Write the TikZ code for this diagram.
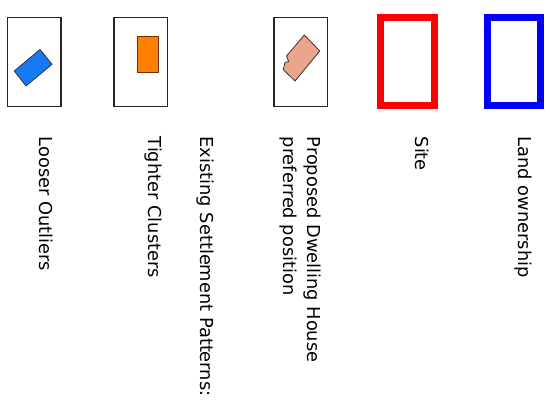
\documentclass[tikz,border=0pt]{standalone}
\usepackage{fontspec}
\setmainfont{DejaVu Sans}
\definecolor{outlierblue}{RGB}{22,122,245}
\definecolor{clusterorange}{RGB}{255,127,0}
\definecolor{houseSalmon}{RGB}{236,164,140}
\begin{document}
\begin{tikzpicture}[x=1pt,y=-1pt,
  legendbox/.style={draw=black!85, line width=1.3pt},
  frame/.style={line width=7pt, line join=miter},
  label/.style={rotate=-90, anchor=base west, inner sep=0pt, font=\fontsize{17.8}{21}\selectfont},
  bldg/.style={draw=black!80, line width=0.8pt, line join=round}]
\useasboundingbox (0,0) rectangle (550,406);
% legend boxes
\draw[legendbox] (7.3,17.3) rectangle (61,106.3);
\draw[legendbox] (114,17.3) rectangle (167.3,106.3);
\draw[legendbox] (274,17.3) rectangle (327.7,106.3);
\draw[frame, draw=red] (380.7,17.5) rectangle (434,106);
\draw[frame, draw=blue] (487,17.5) rectangle (540.7,106);
% symbols
\draw[bldg, fill=outlierblue] (40,49.5) -- (52,64.3) -- (26,86) -- (14.3,71) -- cycle;
\draw[bldg, fill=clusterorange, draw=black!60!clusterorange] (137,36) rectangle (158,72.5);
\draw[bldg, fill=houseSalmon] (304.3,35) -- (319.8,51) -- (295,81) -- (283.3,69.7) -- (285,62.3) -- (288.7,61.7) -- (286.5,56) -- cycle;
% labels
\node[label] (looser) at (39.5,136.5) {Looser Outliers};
\node[label] (tighter) at (148.5,136.5) {Tighter Clusters};
\node[label] (existing) at (200.5,136.5) {Existing Settlement Patterns:};
\node[label] (prop1) at (307.5,136.5) {Proposed Dwelling House};
\node[label] (prop2) at (283,136.5) {preferred position};
\node[label] (site) at (415,136.5) {Site};
\node[label] (land) at (518,136.5) {Land ownership};
\end{tikzpicture}
\end{document}
